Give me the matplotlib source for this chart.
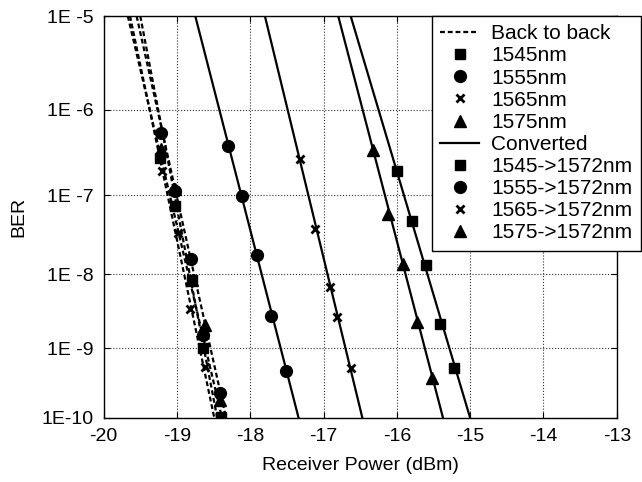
import math
import numpy as np
import matplotlib
matplotlib.use('Agg')
import matplotlib.pyplot as plt
from matplotlib.lines import Line2D

plt.rcParams['font.family'] = ['Liberation Sans', 'DejaVu Sans']
plt.rcParams['axes.unicode_minus'] = False

# back to back measurements (power in dBm, log10 of BER)
b2b_1545_p = [-19.23, -19.03, -18.80, -18.65, -18.40]
b2b_1545_ber = [-6.56, -7.13, -8.07, -8.99, -9.99]
b2b_1555_p = [-19.22, -19.02, -18.81, -18.64, -18.41]
b2b_1555_ber = [-6.27, -6.95, -7.80, -8.81, -9.64]
b2b_1565_p = [-19.21, -18.99, -18.82, -18.62]
b2b_1565_ber = [-6.71, -7.47, -8.46, -9.26]
b2b_1575_p = [-19.22, -19.02, -18.80, -18.62, -18.41]
b2b_1575_ber = [-6.45, -6.93, -8.07, -8.68, -9.74]

# converted measurements
conv_1545_p = [-16.00, -15.80, -15.60, -15.41, -15.22]
conv_1545_ber = [-6.71, -7.32, -7.88, -8.67, -9.28]
conv_1555_p = [-18.31, -18.11, -17.91, -17.72, -17.51]
conv_1555_ber = [-6.42, -7.01, -7.75, -8.55, -9.32]
conv_1565_p = [-17.32, -17.12, -16.91, -16.81, -16.62]
conv_1565_ber = [-6.57, -7.42, -8.17, -8.57, -9.28]
conv_1575_p = [-16.32, -16.12, -15.92, -15.72, -15.52]
conv_1575_ber = [-6.46, -7.23, -7.86, -8.64, -9.42]

# fitted lines: power where each fit crosses BER 1E-5 and 1E-10
fit_ber = [-5, -10]
b2b_fits = [[-19.67, -18.385], [-19.55, -18.33], [-19.64, -18.49], [-19.50, -18.45]]
conv_fits = [[-16.63, -15.00], [-18.75, -17.34], [-17.80, -16.47], [-16.80, -15.37]]

ytick_exp = [-5, -6, -7, -8, -9, -10]
ytick_labels = ['1E -5', '1E -6', '1E -7', '1E -8', '1E -9', '1E-10']
xticks = [-20, -19, -18, -17, -16, -15, -14, -13]


# BER axis is linear in Q factor
_erfc = np.vectorize(math.erfc, otypes=[float])


def ber_to_negq(ber):
    ber = np.clip(np.asarray(ber, dtype=float), 1e-300, 0.4999)
    lo = np.zeros_like(ber)
    hi = np.full_like(ber, 40.0)
    for _ in range(70):
        mid = 0.5 * (lo + hi)
        too_big = 0.5 * _erfc(mid / math.sqrt(2)) > ber
        lo = np.where(too_big, mid, lo)
        hi = np.where(too_big, hi, mid)
    return -0.5 * (lo + hi)


def negq_to_ber(y):
    return 0.5 * _erfc(-np.asarray(y, dtype=float) / math.sqrt(2))


def tb(exps):
    return [10.0 ** e for e in exps]


fig = plt.figure(figsize=(6.42, 4.82), dpi=100)
ax = fig.add_axes([0.1614, 0.1328, 0.7993, 0.834])
ax.set_yscale('function', functions=(ber_to_negq, negq_to_ber))

dash = (0, (2.2, 1.3))
for f in b2b_fits:
    ax.plot(f, tb(fit_ber), color='k', lw=1.6, ls=dash)
for f in conv_fits:
    ax.plot(f, tb(fit_ber), color='k', lw=1.6)

mk = dict(color='k', ls='none')
ax.plot(b2b_1545_p, tb(b2b_1545_ber), marker='s', ms=7.5, **mk)
ax.plot(b2b_1555_p, tb(b2b_1555_ber), marker='o', ms=8.5, **mk)
ax.plot(b2b_1565_p, tb(b2b_1565_ber), marker='x', ms=5.5, mew=2, **mk)
ax.plot(b2b_1575_p, tb(b2b_1575_ber), marker='^', ms=8.5, **mk)
ax.plot(conv_1545_p, tb(conv_1545_ber), marker='s', ms=7.5, **mk)
ax.plot(conv_1555_p, tb(conv_1555_ber), marker='o', ms=8.5, **mk)
ax.plot(conv_1565_p, tb(conv_1565_ber), marker='x', ms=5.5, mew=2, **mk)
ax.plot(conv_1575_p, tb(conv_1575_ber), marker='^', ms=8.5, **mk)

ax.set_xlim(-20, -13)
ax.set_ylim(1e-10, 1e-5)
ax.set_xticks(xticks)
ax.set_xticklabels([str(t) for t in xticks])
ax.set_yticks(tb(ytick_exp))
ax.set_yticklabels(ytick_labels)
ax.yaxis.set_minor_locator(matplotlib.ticker.NullLocator())
ax.tick_params(direction='in', top=True, right=True, length=4, labelsize=14, pad=7)
ax.grid(True, color='#333333', ls=':', lw=0.8)
for s in ax.spines.values():
    s.set_linewidth(1.0)

ax.set_xlabel('Receiver Power (dBm)', fontsize=14, labelpad=9)
ax.set_ylabel('BER', fontsize=14)
ax.yaxis.set_label_coords(-0.148, 0.5)

handles = [
    Line2D([], [], color='k', lw=1.6, ls=dash),
    Line2D([], [], color='k', ls='none', marker='s', ms=7.5),
    Line2D([], [], color='k', ls='none', marker='o', ms=8.5),
    Line2D([], [], color='k', ls='none', marker='x', ms=5.5, mew=2),
    Line2D([], [], color='k', ls='none', marker='^', ms=8.5),
    Line2D([], [], color='k', lw=1.6),
    Line2D([], [], color='k', ls='none', marker='s', ms=7.5),
    Line2D([], [], color='k', ls='none', marker='o', ms=8.5),
    Line2D([], [], color='k', ls='none', marker='x', ms=5.5, mew=2),
    Line2D([], [], color='k', ls='none', marker='^', ms=8.5),
]
labels = ['Back to back', '1545nm', '1555nm', '1565nm', '1575nm',
          'Converted', '1545->1572nm', '1555->1572nm', '1565->1572nm', '1575->1572nm']
leg = ax.legend(handles, labels, loc='upper left', bbox_to_anchor=(0.64, 1.0),
                fontsize=15, frameon=True, fancybox=False, framealpha=1,
                edgecolor='k', borderaxespad=0, borderpad=0.4, labelspacing=0.15,
                handlelength=1.85, handletextpad=0.6)
leg.get_frame().set_linewidth(1.0)

plt.savefig('out.png', dpi=100)
